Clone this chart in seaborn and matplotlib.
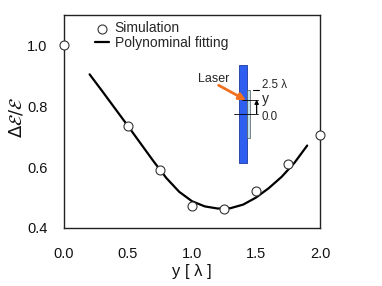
import matplotlib
matplotlib.use("Agg")
import matplotlib.pyplot as plt
import matplotlib.patches as mpatches
import seaborn as sns
import pandas as pd

# simulation points
sim_y = [0.0, 0.5, 0.75, 1.0, 1.25, 1.5, 1.75, 2.0]
sim_val = [1.0, 0.734, 0.59, 0.472, 0.463, 0.522, 0.61, 0.704]

# polynomial fitting curve
fit_y = [0.2, 0.3, 0.4, 0.5, 0.6, 0.7, 0.8, 0.9, 1.0, 1.1, 1.2, 1.3, 1.4, 1.5, 1.6, 1.7, 1.8, 1.9]
fit_val = [0.905, 0.849, 0.792, 0.735, 0.677, 0.619, 0.564, 0.519, 0.488, 0.471, 0.464, 0.465, 0.477, 0.500,
           0.531, 0.568, 0.614, 0.671]

x_ticks = [0.0, 0.5, 1.0, 1.5, 2.0]
y_ticks = [0.4, 0.6, 0.8, 1.0]

sns.set_theme(style="white")
plt.rcParams['font.family'] = ['Liberation Sans', 'DejaVu Sans']

sim = pd.DataFrame({"y": sim_y, "v": sim_val})
fit = pd.DataFrame({"y": fit_y, "v": fit_val})

fig = plt.figure(figsize=(3.82, 2.86), dpi=100)
ax = fig.add_axes([0.1675, 0.2028, 0.6702, 0.7448])

sns.lineplot(data=fit, x="y", y="v", ax=ax, color="black", lw=1.6, label="Polynominal fitting",
             solid_joinstyle="round")
sns.scatterplot(data=sim, x="y", y="v", ax=ax, marker="o", s=42, facecolor="white",
                edgecolor="#333333", linewidth=0.8, label="Simulation", zorder=5, clip_on=False)

ax.set_xlim(0, 2.0)
ax.set_ylim(0.4, 1.1)
ax.set_xticks(x_ticks)
ax.set_yticks(y_ticks)
ax.set_xticklabels([f"{t:.1f}" for t in x_ticks], fontsize=10.5, color="#111111")
ax.set_yticklabels([f"{t:.1f}" for t in y_ticks], fontsize=10.5, color="#111111")
ax.tick_params(axis="both", direction="in", length=4, width=0.6, color="#cccccc")
ax.tick_params(axis="x", pad=13.5)
ax.tick_params(axis="y", pad=12)
for s in ax.spines.values():
    s.set_color("#222222")
    s.set_linewidth(1.0)

ax.set_xlabel("y [ λ ]", fontsize=12, labelpad=2, color="#111111")
ax.set_ylabel(r"$\Delta\mathcal{E}/\mathcal{E}$", fontsize=13, color="#111111")
ax.yaxis.set_label_coords(-0.152, 0.52)

h, l = ax.get_legend_handles_labels()
ax.legend(h[::-1], l[::-1], loc="upper left", bbox_to_anchor=(0.09, 1.01), frameon=False,
          fontsize=10, handlelength=1.0, handletextpad=0.4, labelspacing=0.05, borderaxespad=0.2)

# inset sketch of the sample
ax.add_patch(mpatches.Rectangle((1.367, 0.614), 0.065, 0.321, facecolor="#2f5ff0",
                                edgecolor="#1a3aa0", lw=0.6, zorder=3))
ax.add_patch(mpatches.Rectangle((1.432, 0.696), 0.024, 0.159, facecolor="#bfe3ee",
                                edgecolor="#555555", lw=0.5, zorder=3))
ax.plot([1.388, 1.516], [0.820, 0.820], color="black", lw=0.6, zorder=4)
ax.plot([1.328, 1.516], [0.776, 0.776], color="black", lw=0.6, zorder=4)
ax.plot([1.477, 1.523], [0.855, 0.855], color="black", lw=0.8, zorder=4)
ax.annotate("", xy=(1.505, 0.822), xytext=(1.505, 0.776),
            arrowprops=dict(arrowstyle="-|>", color="black", lw=0.9, mutation_scale=6,
                            shrinkA=0, shrinkB=0), zorder=4)
ax.annotate("", xy=(1.422, 0.820), xytext=(1.208, 0.869),
            arrowprops=dict(arrowstyle="-|>", color="#f07020", lw=2.0, mutation_scale=10,
                            shrinkA=0, shrinkB=0), zorder=4)
ax.text(1.05, 0.888, "Laser", fontsize=9, va="center")
ax.text(1.545, 0.869, "2.5 λ", fontsize=8.3, va="center")
ax.text(1.545, 0.824, "y", fontsize=10, va="center")
ax.text(1.545, 0.764, "0.0", fontsize=8.3, va="center")

fig.savefig("out.png", dpi=100)
